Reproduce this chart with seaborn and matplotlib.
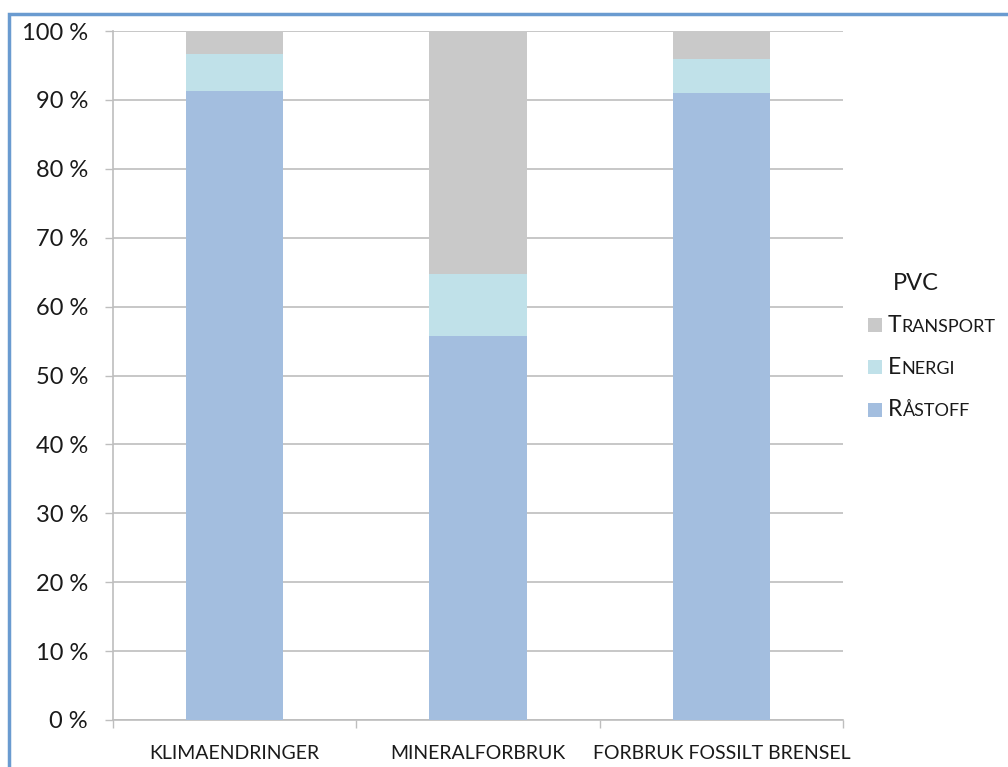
import numpy as np
import pandas as pd
import matplotlib
matplotlib.use("Agg")
import matplotlib.pyplot as plt
import seaborn as sns
from matplotlib.patches import Rectangle
from matplotlib.offsetbox import TextArea, DrawingArea, HPacker, AnchoredOffsetbox

# Share of each life-cycle stage (%) per impact category for PVC
categories = ["KLIMAENDRINGER", "MINERALFORBRUK", "FORBRUK FOSSILT BRENSEL"]
raastoff = [91.3, 55.7, 91.0]
energi = [5.3, 9.1, 4.9]
transport = [3.4, 35.2, 4.1]

series_names = ["Råstoff", "Energi", "Transport"]
series_colors = ["#A3BEDF", "#C0E1E9", "#C9C9C9"]
yticks = [0, 10, 20, 30, 40, 50, 60, 70, 80, 90, 100]
ytick_labels = [f"{v} %" for v in yticks]
legend_title = "PVC"

sns.set_theme(style="white")
plt.rcParams["font.family"] = ["Lato", "DejaVu Sans"]

fig = plt.figure(figsize=(10.08, 7.67), dpi=100)
ax = fig.add_axes([113 / 1008, 1 - 720 / 767, 730 / 1008, 689 / 767])

df = pd.DataFrame({"kategori": categories,
                   "Råstoff": raastoff, "Energi": energi, "Transport": transport})
df["c1"] = df["Råstoff"]
df["c2"] = df["c1"] + df["Energi"]
df["c3"] = df["c2"] + df["Transport"]

# stacked bars: draw cumulative totals from the top segment down
for col, color in zip(["c3", "c2", "c1"], series_colors[::-1]):
    sns.barplot(data=df, x="kategori", y=col, color=color, width=0.4,
                saturation=1, linewidth=0, edgecolor="none", ax=ax, zorder=3)

ax.set_ylim(0, 100)
ax.set_xlim(-0.5, 2.5)
ax.set_yticks(yticks)
ax.set_yticklabels(ytick_labels, fontsize=17, color="#1A1A1A")
ax.set_xlabel("")
ax.set_ylabel("")
ax.yaxis.grid(True, color="#BEBEBE", linewidth=1.2, zorder=0)
ax.xaxis.grid(False)

ax.set_xticks([0, 1, 2])
ax.set_xticklabels(categories, fontsize=14, color="#1A1A1A")
ax.set_xticks([-0.5, 0.5, 1.5, 2.5], minor=True)
ax.tick_params(axis="x", which="major", length=0, pad=18)
ax.tick_params(axis="x", which="minor", length=6, width=1, color="#BEBEBE",
               direction="out", bottom=True)
ax.tick_params(axis="y", which="major", length=6, width=1, color="#BEBEBE",
               direction="out", left=True, pad=12)

for side in ["top", "right"]:
    ax.spines[side].set_visible(False)
for side in ["left", "bottom"]:
    ax.spines[side].set_color("#BEBEBE")
    ax.spines[side].set_linewidth(1.2)

# legend title
fig.text(893 / 1008, 1 - 283 / 767, legend_title, fontsize=17,
         va="center", ha="left", color="#1A1A1A")

# legend rows with small-caps style labels
row_y = [325, 367, 410]
for name, color, y in zip(series_names[::-1], series_colors[::-1], row_y):
    da = DrawingArea(10, 10, 0, 0)
    da.add_artist(Rectangle((0, 0), 10, 10, facecolor=color, edgecolor="none"))
    first = TextArea(name[0].upper(), textprops=dict(size=16.5, color="#1A1A1A"))
    rest = TextArea(name[1:].upper(), textprops=dict(size=13, color="#1A1A1A"))
    label = HPacker(children=[first, rest], align="baseline", pad=0, sep=0.5)
    row = HPacker(children=[da, label], align="center", pad=0, sep=4)
    box = AnchoredOffsetbox(loc="center left", child=row, pad=0, borderpad=0,
                            frameon=False, bbox_to_anchor=(868 / 1008, 1 - y / 767),
                            bbox_transform=fig.transFigure)
    fig.add_artist(box)

# outer frame, cut by the right and bottom image edges
frame = Rectangle((9 / 1008, -0.05), 1.2, 1 - 14 / 767 + 0.05,
                  transform=fig.transFigure, fill=False,
                  edgecolor="#6A9BD0", linewidth=2.5)
fig.add_artist(frame)

fig.savefig("out.png", dpi=100, facecolor="white")
